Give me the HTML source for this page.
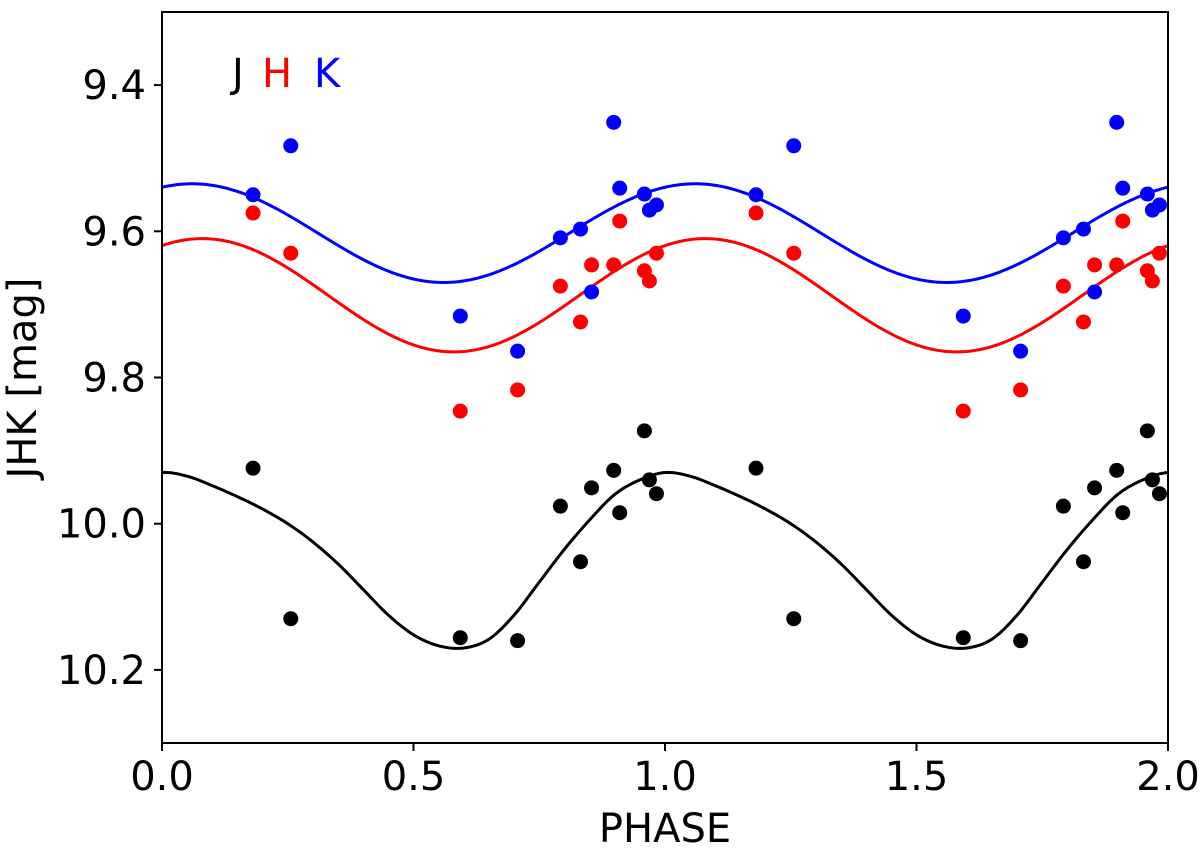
<!DOCTYPE html>
<html><head><meta charset="utf-8"><style>
body{margin:0;background:#fff;}
svg{display:block;font-family:"DejaVu Sans","Liberation Sans",sans-serif;}
</style></head><body>
<svg id="chart" width="1200" height="849" viewBox="0 0 1200 849"></svg>
<script>
const phases = [0.181,0.256,0.593,0.707,0.792,0.832,0.854,0.898,0.910,0.959,0.969,0.983];
const kMag = [9.550,9.483,9.716,9.764,9.609,9.597,9.683,9.451,9.541,9.549,9.571,9.564];
const hMag = [9.575,9.630,9.846,9.817,9.675,9.724,9.646,9.646,9.586,9.654,9.668,9.630];
const jMag = [9.924,10.130,10.156,10.160,9.976,10.052,9.951,9.927,9.985,9.873,9.940,9.959];
const kFit = [9.6025,0.0675,0.06];
const hFit = [9.6875,0.0775,0.08];
const jCurve = [9.930,9.935,9.948,9.963,9.980,10.000,10.025,10.055,10.090,10.125,10.152,10.167,10.170,10.158,10.125,10.080,10.035,9.995,9.960,9.940,9.930];
const xTicks = [0,0.5,1.0,1.5,2.0];
const xTickLabels = ["0.0","0.5","1.0","1.5","2.0"];
const yTicks = [9.4,9.6,9.8,10.0,10.2];
const yTickLabels = ["9.4","9.6","9.8","10.0","10.2"];

const NS="http://www.w3.org/2000/svg";
const svg=document.getElementById('chart');
const L=162,R=1168,T=12,B=743;
const X=v=>L+(v-0)/2*(R-L);
const Y=v=>T+(v-9.3)/1.0*(B-T);
function mk(tag,attrs,parent){const e=document.createElementNS(NS,tag);for(const k in attrs)e.setAttribute(k,attrs[k]);(parent||svg).appendChild(e);return e;}

function sinePath(fit){let d="";for(let i=0;i<=400;i++){const p=i/200;const m=fit[0]-fit[1]*Math.cos(2*Math.PI*(p-fit[2]));d+=(i?"L":"M")+X(p).toFixed(2)+","+Y(m).toFixed(2);}return d;}
function samplePath(arr){const n=arr.length-1;let d="";for(let i=0;i<=400;i++){const p=i/200;let f=(p%1)*n;if(p===2)f=n;const k=Math.min(Math.floor(f),n-1),t=f-k;
const p0=arr[(k-1+n)%n],p1=arr[k],p2=arr[k+1],p3=arr[k+2<=n?k+2:1];
const m=0.5*((2*p1)+(-p0+p2)*t+(2*p0-5*p1+4*p2-p3)*t*t+(-p0+3*p1-3*p2+p3)*t*t*t);
d+=(i?"L":"M")+X(p).toFixed(2)+","+Y(m).toFixed(2);}return d;}

let e;
e=mk('path',{d:sinePath(kFit),fill:'none',stroke:'#0000ff','stroke-width':3});


e=mk('path',{d:sinePath(hFit),fill:'none',stroke:'#ff0000','stroke-width':3});


e=mk('path',{d:samplePath(jCurve),fill:'none',stroke:'#000','stroke-width':3});



[[kMag,'#0000ff','k'],[hMag,'#ff0000','h'],[jMag,'#000000','j']].forEach(([arr,col,nm])=>{
  for(let c=0;c<2;c++)arr.forEach((v,i)=>{
    const pt=mk('circle',{cx:X(phases[i]+c),cy:Y(v),r:7.5,fill:col});
    
    
  });
});

e=mk('rect',{x:L,y:T,width:R-L,height:B-T,fill:'none',stroke:'#000','stroke-width':2});



xTicks.forEach((v,i)=>{
  mk('line',{x1:X(v),x2:X(v),y1:B,y2:B+8,stroke:'#000','stroke-width':2});
  const t=mk('text',{x:X(v),y:B+47,'font-size':40,'text-anchor':'middle'});t.textContent=xTickLabels[i];
  
  
});
yTicks.forEach((v,i)=>{
  mk('line',{x1:L-8,x2:L,y1:Y(v),y2:Y(v),stroke:'#000','stroke-width':2});
  const t=mk('text',{x:L-16,y:Y(v)+14,'font-size':40,'text-anchor':'end'});t.textContent=yTickLabels[i];
  
  
});
e=mk('text',{x:(L+R)/2,y:842,'font-size':40,'text-anchor':'middle'});e.textContent='PHASE';


e=mk('text',{x:0,y:0,'font-size':40,'text-anchor':'middle',transform:'translate(36,378) rotate(-90)'});e.textContent='JHK [mag]';


[['J','#000',232],['H','#ff0000',262],['K','#0000ff',314]].forEach(([s,c,x])=>{
  const t=mk('text',{x:x,y:87,'font-size':40,fill:c});t.textContent=s;
  
  
});
</script>
</body></html>
